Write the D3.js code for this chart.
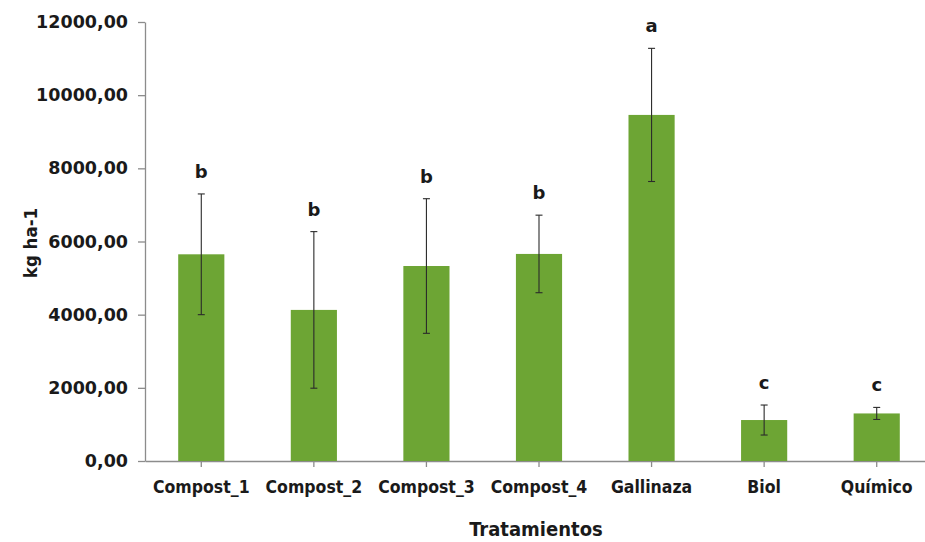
<!DOCTYPE html>
<html><head><meta charset="utf-8">
<script src="https://cdn.jsdelivr.net/npm/d3@7"></script>
<style>
html,body{margin:0;padding:0;background:#fff;}
svg{display:block;}
text{font-family:"DejaVu Sans",Verdana,sans-serif;font-weight:bold;fill:#1a1a1a;}
</style></head>
<body>
<svg id="chart" width="925" height="542"></svg>
<script>
const categories = ["Compost_1","Compost_2","Compost_3","Compost_4","Gallinaza","Biol","Químico"];
const means      = [5650, 4130, 5330, 5660, 9460, 1120, 1300];
const errors     = [1650, 2140, 1840, 1060, 1820, 410, 165];
const letters    = ["b","b","b","b","a","c","c"];
const yTicks     = [0,2000,4000,6000,8000,10000,12000];

const svg = d3.select("#chart");
const x = d3.scaleBand().domain(categories).range([145, 933]).paddingInner(0.59).paddingOuter(0.295);
const y = d3.scaleLinear().domain([0, 12000]).range([461, 22]);
const fmt = v => d3.format(".2f")(v).replace(".", ",");
const cond = "'DejaVu Sans Condensed','DejaVu Sans',sans-serif";

// axes
const yAxis = svg.append("g").attr("transform","translate(145,0)")
  .call(d3.axisLeft(y).tickValues(yTicks).tickFormat(fmt).tickSize(7).tickSizeOuter(0).tickPadding(10));
yAxis.select(".domain").attr("stroke","#8c8c8c").attr("stroke-width",1.3);
yAxis.selectAll(".tick line").attr("stroke","#8c8c8c").attr("stroke-width",1.3);
yAxis.selectAll("text").style("font-size","17.5px").attr("fill","#1a1a1a");

const xAxis = svg.append("g").attr("transform","translate(0,461)")
  .call(d3.axisBottom(x).tickSize(6).tickSizeOuter(0).tickPadding(14));
xAxis.select(".domain").attr("stroke","#8c8c8c").attr("stroke-width",1.3);
xAxis.selectAll(".tick line").attr("stroke","#8c8c8c").attr("stroke-width",1.3);
xAxis.selectAll("text").style("font-size","17.5px").style("font-family",cond).attr("fill","#1a1a1a");

// bars
svg.append("g").selectAll("rect").data(categories).join("rect")
  .attr("x", d => x(d)).attr("width", x.bandwidth())
  .attr("y", (d,i) => y(means[i])).attr("height", (d,i) => y(0) - y(means[i]))
  .attr("fill","#6da534");

// error bars
const eb = svg.append("g").attr("stroke","#2b2b2b").attr("stroke-width",1.1);
categories.forEach((c,i) => {
  const cx = x(c) + x.bandwidth()/2;
  const t = y(means[i] + errors[i]), b = y(means[i] - errors[i]);
  eb.append("line").attr("x1",cx).attr("x2",cx).attr("y1",t).attr("y2",b);
  eb.append("line").attr("x1",cx-3.5).attr("x2",cx+3.5).attr("y1",t).attr("y2",t);
  eb.append("line").attr("x1",cx-3.5).attr("x2",cx+3.5).attr("y1",b).attr("y2",b);
  svg.append("text").attr("x",cx).attr("y",t - 16).attr("text-anchor","middle")
    .style("font-size","18px").text(letters[i]);
});

// titles
svg.append("text").attr("transform","translate(37,243) rotate(-90)").attr("text-anchor","middle")
  .style("font-size","18.5px").style("font-family",cond).text("kg ha-1");
svg.append("text").attr("x",536).attr("y",536).attr("text-anchor","middle")
  .style("font-size","20px").style("font-family",cond).text("Tratamientos");
</script>
</body></html>
